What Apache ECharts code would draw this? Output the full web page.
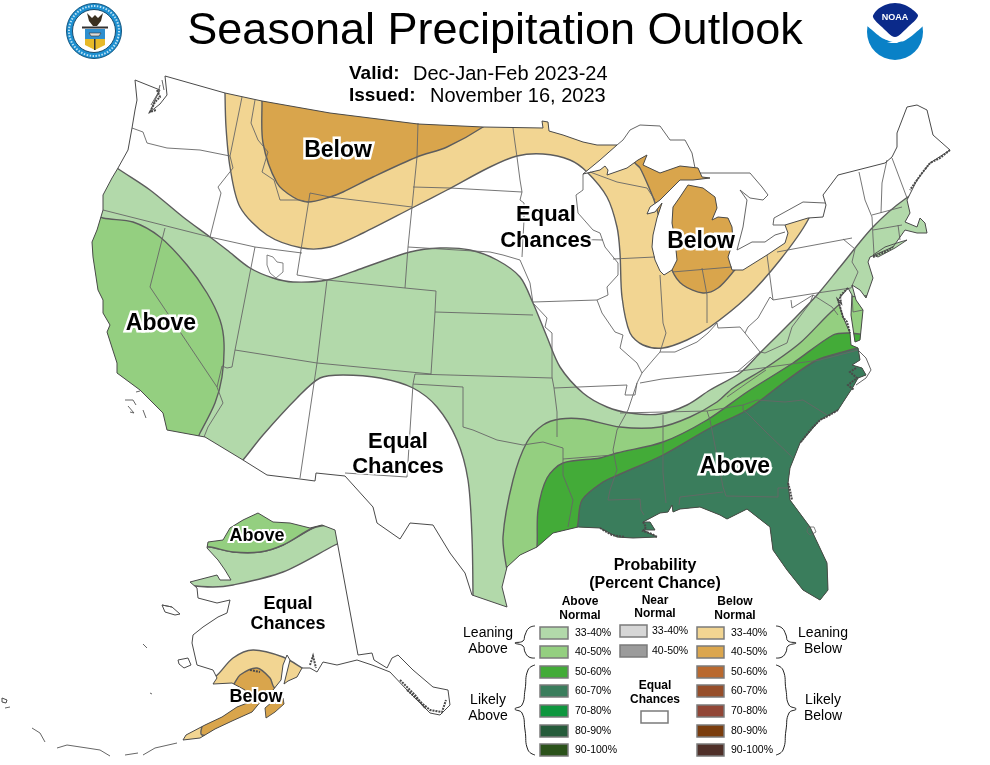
<!DOCTYPE html>
<html><head><meta charset="utf-8">
<style>html,body{margin:0;padding:0;background:#fff}#c{width:990px;height:765px}</style>
<script src="https://cdn.jsdelivr.net/npm/echarts@6/dist/echarts.min.js"></script>
</head><body><div id="c"></div>
<script>
// ---------- geography, in the map's own units ----------
const landConus=[[165,76],[225,93],[262,101],[330,113],[418,124],[483,127],[543,128],[542,121],[548,122],[549,131],[563,135],[583,142],[597,145],[617,145],[600,160],[583,174],[600,170],[605,166],[608,170],[607,175],[627,168],[638,160],[647,155],[643,165],[660,173],[680,166],[698,168],[702,177],[710,178],[693,180],[680,180],[670,190],[660,200],[650,207],[647,214],[655,212],[662,203],[657,218],[653,235],[652,247],[655,260],[660,271],[664,275],[672,270],[677,260],[675,240],[672,223],[673,207],[680,197],[688,185],[703,188],[715,197],[717,208],[712,220],[718,217],[728,218],[732,227],[733,242],[728,257],[732,270],[743,270],[767,255],[785,243],[788,233],[785,225],[808,218],[823,217],[826,205],[823,195],[838,175],[885,163],[892,157],[897,147],[897,133],[907,107],[917,105],[927,110],[933,135],[950,150],[930,163],[917,180],[907,200],[910,213],[905,222],[917,227],[920,218],[925,223],[927,233],[917,233],[905,230],[893,247],[870,257],[868,262],[873,278],[866,298],[860,290],[852,285],[856,300],[863,310],[860,340],[855,342],[851,315],[852,295],[848,288],[838,300],[843,317],[850,333],[851,345],[858,348],[860,360],[852,365],[862,368],[866,375],[858,378],[853,387],[838,410],[820,420],[800,443],[790,468],[788,483],[790,500],[810,527],[827,563],[828,590],[820,600],[803,590],[787,570],[773,550],[770,527],[747,509],[727,519],[720,515],[700,507],[680,509],[673,512],[672,505],[668,512],[660,513],[643,522],[650,522],[655,530],[643,530],[657,537],[633,538],[617,537],[600,528],[578,527],[553,533],[537,547],[520,555],[507,567],[502,587],[507,607],[472,595],[465,573],[450,553],[433,525],[410,523],[400,539],[377,523],[373,507],[345,476],[316,473],[315,481],[300,479],[267,475],[243,460],[205,437],[167,430],[163,413],[140,390],[117,373],[117,363],[107,332],[110,325],[103,313],[103,300],[98,290],[93,257],[92,242],[97,230],[103,210],[103,195],[112,178],[118,168],[128,150],[132,128],[135,110],[137,100],[135,80],[160,90],[155,100],[150,112],[160,104],[167,95]];
const longIsland=[[873,255],[885,247],[900,242],[907,240],[895,248],[878,257]];
const landAlaska=[[335,530],[358,655],[372,653],[374,660],[387,668],[392,658],[398,655],[413,670],[433,687],[448,690],[450,705],[440,715],[430,713],[407,690],[390,672],[372,665],[357,660],[337,665],[323,662],[317,672],[310,668],[302,668],[297,677],[288,681],[284,684],[290,660],[287,655],[283,665],[281,680],[273,690],[262,700],[252,712],[232,721],[215,729],[200,738],[183,740],[186,735],[205,725],[222,717],[237,707],[250,702],[245,690],[232,683],[213,684],[217,678],[213,670],[197,665],[192,643],[193,635],[203,627],[218,617],[227,613],[230,600],[217,603],[198,598],[197,588],[190,582],[217,575],[220,580],[231,580],[225,570],[218,560],[207,548],[208,542],[223,540],[230,528],[243,520],[258,513],[273,522],[290,523],[310,528],[322,525]];
const kodiak=[[265,708],[272,702],[283,698],[284,704],[275,712],[266,718]];
const islands=[[[162,605],[172,607],[180,614],[175,615],[165,612]],[[178,660],[188,658],[191,665],[184,668],[179,664]],[[2,698],[7,700],[6,703],[2,702]]];

const leanAbove1=[[100,155],[117,168],[150,190],[183,217],[210,237],[227,250],[250,268],[273,278],[293,282],[327,280],[363,268],[410,252],[440,248],[470,250],[497,260],[520,277],[533,303],[547,337],[560,367],[583,393],[607,407],[630,413],[660,414],[687,405],[710,390],[740,373],[760,353],[790,323],[817,295],[840,267],[873,227],[905,199],[925,190],[980,190],[980,640],[520,640],[473,640],[473,597],[472,537],[468,480],[457,440],[437,407],[413,388],[380,378],[343,375],[320,378],[297,398],[263,435],[243,460],[225,480],[60,470],[60,150]];
const leanAbove2West=[[60,205],[103,218],[133,222],[160,237],[187,265],[207,293],[220,320],[224,343],[222,377],[215,403],[200,433],[190,450],[60,450]];
const leanAbove2East=[[520,640],[512,590],[507,570],[503,537],[513,480],[527,442],[543,425],[560,419],[583,419],[620,427],[660,427],[690,417],[717,402],[733,388],[767,367],[800,343],[830,313],[848,298],[862,296],[880,296],[980,300],[980,640]];
const likelyAbove1=[[533,580],[537,547],[538,510],[547,478],[563,463],[600,458],[617,453],[663,442],[707,420],[747,392],[793,363],[833,335],[848,333],[865,335],[890,340],[980,345],[980,640],[540,640]];
const likelyAbove2=[[575,545],[578,523],[582,500],[603,482],[618,475],[663,455],[710,428],[747,410],[787,380],[817,360],[843,352],[858,348],[875,346],[895,344],[980,340],[980,640],[575,640]];
const leanBelow1=[[225,70],[620,70],[800,150],[815,195],[808,220],[780,260],[747,297],[710,327],[687,340],[663,348],[643,345],[630,333],[622,297],[620,253],[617,227],[607,197],[587,172],[570,160],[543,154],[517,156],[490,167],[447,190],[412,208],[363,233],[330,247],[302,248],[267,235],[240,207],[230,167],[226,127],[225,93]];
const leanBelow2North=[[262,70],[500,112],[483,127],[447,147],[417,157],[373,177],[343,192],[330,197],[308,202],[293,197],[277,183],[263,143],[262,101]];
const leanBelow2Michigan=[[622,140],[635,163],[640,168],[650,190],[655,203],[665,240],[672,270],[683,285],[703,293],[718,288],[733,272],[745,255],[750,190],[715,150],[640,130]];
const akLeanAbove1=[[150,540],[210,547],[233,552],[260,552],[283,545],[313,528],[345,515],[345,540],[335,545],[283,572],[233,585],[213,587],[185,585],[150,580]];
const akLeanAbove2=[[150,500],[345,500],[345,520],[313,528],[283,545],[260,552],[233,552],[210,547],[150,540]];
const akLeanBelow1=[[205,678],[215,677],[233,658],[253,650],[283,657],[302,668],[320,680],[300,730],[220,755],[170,755],[170,730]];
const akLeanBelow2=[[222,690],[233,685],[240,675],[257,668],[270,678],[275,688],[305,685],[300,730],[240,735],[202,735],[203,724]];

const stateLines=[
[[132,128],[143,132],[147,143],[167,148],[200,150],[230,156]],[[242,97],[230,156],[233,168],[218,187],[221,193],[210,237]],[[103,210],[210,237],[255,247],[302,253]],
[[255,100],[251,123],[258,140],[268,152],[262,172],[274,180],[280,200],[300,200],[308,202]],[[310,193],[330,197],[412,207]],[[310,193],[297,275],[327,280],[405,288]],
[[418,123],[417,157],[412,207],[408,247],[405,288]],[[413,187],[450,188],[522,192]],[[513,128],[515,143],[517,157],[520,180],[522,192],[520,200],[524,203],[524,220],[522,257]],
[[408,247],[490,252],[503,255],[520,260],[530,283],[533,303],[547,318],[545,327],[552,333],[552,377],[554,388],[557,412],[557,437]],[[405,288],[436,291],[435,312],[431,374]],[[435,312],[533,315]],
[[533,302],[597,300]],[[523,238],[603,240]],[[583,174],[583,190],[576,195],[578,213],[593,230],[600,233],[605,247],[618,263],[618,275],[607,287],[608,295],[597,300],[602,313],[615,332],[623,335],[620,348],[637,363],[642,373],[637,383],[628,410],[617,430],[613,450],[617,470],[610,490],[608,500],[640,499],[641,510],[644,515]],
[[613,259],[655,257]],[[660,275],[663,323],[666,333],[660,352],[653,360],[642,373]],[[702,268],[707,295],[707,323]],[[672,272],[732,267]],[[660,352],[675,352],[697,342],[708,333],[717,323],[718,328],[740,327],[745,333],[760,352],[737,372]],
[[640,383],[662,379],[733,372],[820,360],[858,350]],[[727,397],[747,383],[766,370]],[[620,413],[707,411],[743,405],[757,400],[785,402],[803,400],[827,415]],[[707,411],[710,420],[723,487],[726,496],[778,497],[778,488],[788,488]],[[663,415],[663,473],[666,503]],[[680,497],[723,492]],[[680,497],[679,505]],
[[554,388],[627,385],[625,395],[635,395],[637,383]],[[563,459],[613,455]],[[563,448],[563,475],[573,500],[568,527]],[[463,427],[473,430],[497,440],[523,445],[543,442],[563,448]],[[413,384],[463,387],[463,427]],[[415,374],[552,378]],[[415,374],[413,384],[407,477],[345,473]],
[[235,350],[317,363],[431,374]],[[327,280],[317,363],[300,478]],[[255,247],[235,350],[232,367],[227,368],[222,366],[217,387],[223,403],[208,427],[204,437]],[[165,228],[150,287],[217,387]],
[[767,255],[773,300],[770,297],[758,318],[748,327],[745,333]],[[773,300],[817,293],[851,288]],[[777,252],[852,238]],[[843,239],[855,249],[852,262],[858,272],[851,288]],[[760,352],[765,353],[787,343],[792,327],[810,303],[813,295],[832,307],[838,315]],[[791,300],[792,308],[813,295]],[[852,295],[853,312],[863,310]],
[[859,172],[865,200],[872,217],[873,237],[874,254]],[[872,215],[902,207]],[[887,160],[882,183],[881,213]],[[892,158],[907,198]],[[873,230],[902,225]],[[898,225],[900,240]],[[590,172],[617,182],[647,188],[655,200]],[[743,410],[747,413],[767,433],[793,458]],[[743,405],[743,410]]];
const lakes=[[[267,255],[273,257],[277,262],[283,263],[283,272],[276,278],[270,273],[267,265]],[[808,527],[814,527],[816,532],[810,535],[807,532]]];
const detailLines=[[[858,350],[866,358],[871,370],[866,378],[856,385]],[[774,218],[803,202],[825,203]],[[774,218],[773,225],[785,225]],[[700,173],[737,173],[750,173],[762,187],[768,195],[763,200],[750,198],[740,190],[747,200],[743,227],[737,250]],[[737,250],[752,242],[765,242],[775,235],[785,232]],[[617,145],[623,140],[630,130],[640,125],[660,126],[670,140],[685,140],[692,153],[695,168]],[[160,85],[158,93],[151,105]],[[162,80],[164,90]],[[125,400],[133,400],[136,405]],[[128,406],[134,413],[130,412]],[[143,410],[146,418]],[[140,391],[136,392]],[[32,728],[40,733],[45,742]],[[57,748],[67,745],[87,748],[100,750],[110,756]],[[125,755],[138,753]],[[143,755],[155,748],[177,743]],[[162,605],[172,607]],[[5,708],[10,707]],[[143,644],[147,648]],[[150,693],[152,694]]];
const roughCoast=[[[950,150],[940,158],[930,163],[922,173],[917,180],[910,190]],[[848,288],[840,296],[841,303],[838,300],[843,317],[847,322],[850,333]],[[157,90],[160,97],[155,102],[150,112],[156,110]],[[873,257],[885,252],[893,247]],[[856,368],[850,372],[857,378],[848,385],[854,390]],[[838,410],[828,416],[820,420],[812,428],[800,443]],[[643,522],[646,527],[643,531],[652,534],[657,537]],[[600,528],[612,535],[625,537]],[[788,483],[790,490],[792,500]],[[250,670],[260,672]],[[310,665],[313,656],[316,668]],[[407,690],[418,700],[430,710],[442,712],[446,700]],[[400,680],[415,695],[425,708]]];

// ---------- legend ----------
const rangeLabels=['33-40%','40-50%','50-60%','60-70%','70-80%','80-90%','90-100%'];
const nearLabels=['33-40%','40-50%'];
const aboveColors=['#b2d9aa','#94cf80','#43ab38','#3a7d5c','#0e963e','#255b3a','#2b521a'];
const nearColors=['#d6d6d6','#9b9b9b'];
const belowColors=['#f2d592','#dba64e','#b9692f','#964e2a','#914636','#7a3d0e','#4f3029'];
const legendRowTops=[627,646,666,685,705,725,744];
const nearRowTops=[625,645];
const bracesLeft=[[[535,626],[529,628],[525,635],[523,641],[515,643],[523,646],[525,652],[529,657],[535,658]],[[535,665],[528,670],[525,690],[522,705],[515,709],[522,713],[525,730],[528,750],[535,755]]];
const bracesRight=[[[776,626],[782,628],[786,635],[788,641],[796,643],[788,646],[786,652],[782,657],[776,658]],[[776,665],[783,670],[786,690],[789,705],[796,709],[789,713],[786,730],[783,750],[776,755]]];

// ---------- text ----------
const mapLabelsBig=[[338,151,'Below'],[161,324,'Above'],[701,242,'Below'],[735,467,'Above']];
const equalLabelsBig=[[546,215,'Equal'],[546,241,'Chances'],[398,442,'Equal'],[398,467,'Chances']];
const alaskaLabels=[[257,536,'Above'],[256,697,'Below'],[288,604,'Equal'],[288,624,'Chances']];
const headerBold=[[349,74,'Valid:'],[349,96,'Issued:']];
const headerPlain=[[413,74,'Dec-Jan-Feb 2023-24'],[430,96,'November 16, 2023']];
const probLabels=[[655,566,'Probability'],[655,584,'(Percent Chance)']];
const colHeads=[[580,602,'Above'],[580,616,'Normal'],[655,601,'Near'],[655,614,'Normal'],[735,602,'Below'],[735,616,'Normal'],[655,686,'Equal'],[655,700,'Chances']];
const sideLabels=[[488,633,'Leaning'],[488,649,'Above'],[823,633,'Leaning'],[823,649,'Below'],[488,700,'Likely'],[488,716,'Above'],[823,700,'Likely'],[823,716,'Below']];

const FONT='"Liberation Sans", Arial, sans-serif';
const C={a1:aboveColors[0],a2:aboveColors[1],a3:aboveColors[2],a4:aboveColors[3],b1:belowColors[0],b2:'#d9a54c'};
const edge='#5d5d5d';

function pts(api,list){return list.map(p=>api.coord(p));}
function shadeSeries(layers,clip){
  return {type:'custom',coordinateSystem:'cartesian2d',silent:true,clip:false,data:layers.map((l,i)=>[i]),
    renderItem(params,api){
      const l=layers[params.dataIndex];
      return {type:'group',clipPath:{type:'polygon',shape:{points:pts(api,clip)}},
        children:[{type:'polygon',shape:{points:pts(api,l.p),smooth:0.3},style:{fill:l.c,stroke:edge,lineWidth:1.4}}]};
    }};
}
function polySeries(list,style){
  return {type:'custom',coordinateSystem:'cartesian2d',silent:true,clip:false,data:list.map((l,i)=>[i]),
    renderItem(params,api){return {type:'polygon',shape:{points:pts(api,list[params.dataIndex])},style};}};
}
function lineSeries(list,style,smooth){
  return {type:'custom',coordinateSystem:'cartesian2d',silent:true,clip:false,data:list.map((l,i)=>[i]),
    renderItem(params,api){return {type:'polyline',shape:{points:pts(api,list[params.dataIndex]),smooth:smooth||0},style};}};
}
function swatchSeries(left,right,tops,colors,h){
  return {type:'custom',coordinateSystem:'cartesian2d',silent:true,clip:false,data:tops.map((t,i)=>[i]),
    renderItem(params,api){
      const i=params.dataIndex,a=api.coord([left,tops[i]]),b=api.coord([right,tops[i]+h]);
      return {type:'rect',shape:{x:a[0],y:a[1],width:b[0]-a[0],height:b[1]-a[1]},style:{fill:colors[i],stroke:'#7b7b7b',lineWidth:1.5}};
    }};
}
function textSeries(items,size,weight,extra){
  return {type:'scatter',silent:true,symbol:'circle',symbolSize:1,itemStyle:{color:'transparent',opacity:1},data:items,clip:false,
    label:Object.assign({show:true,position:'inside',formatter:p=>p.data[2],fontFamily:FONT,fontSize:size,fontWeight:weight,color:'#000',align:'center',verticalAlign:'middle'},extra||{})};
}
const halo={textBorderColor:'#fff',textBorderWidth:5};
const rangeItems=rangeLabels.map((t,i)=>[575,legendRowTops[i]+6,t]).concat(rangeLabels.map((t,i)=>[731,legendRowTops[i]+6,t]),nearLabels.map((t,i)=>[652,nearRowTops[i]+6,t]));

const option={
  animation:false,backgroundColor:'#fff',
  title:{text:'Seasonal Precipitation Outlook',left:'center',top:4,textStyle:{fontFamily:FONT,fontSize:45,fontWeight:'normal',color:'#000'}},
  grid:{left:0,right:0,top:0,bottom:0},
  xAxis:{type:'value',min:0,max:990,show:false},
  yAxis:{type:'value',min:0,max:765,inverse:true,show:false},
  graphic:{elements:[
    {type:'circle',shape:{cx:94,cy:31,r:27.5},style:{fill:'#1c8fd0',stroke:'#16567f',lineWidth:1}},
    {type:'circle',shape:{cx:94,cy:31,r:25},style:{fill:'none',stroke:'#bfe3f5',lineWidth:2,lineDash:[1.5,1.5]}},
    {type:'circle',shape:{cx:94,cy:31,r:21.5},style:{fill:'#fff',stroke:'#1b4a6b',lineWidth:1}},
    {type:'polygon',shape:{points:[[85,29],[105,29],[105,39],[85,39]]},style:{fill:'#2f8fcf'}},
    {type:'polygon',shape:{points:[[85,39],[105,39],[105,45],[95,50],[85,45]]},style:{fill:'#e7b928'}},
    {type:'polygon',shape:{points:[[89,33],[101,33],[99,36],[91,36]]},style:{fill:'#ddd',stroke:'#333',lineWidth:.6}},
    {type:'rect',shape:{x:82,y:26.5,width:26,height:2},style:{fill:'#333'}},
    {type:'rect',shape:{x:94,y:39,width:1.5,height:11},style:{fill:'#333'}},
    {type:'polygon',shape:{points:[[87,13],[92,18],[95,15],[98,18],[103,13],[101,21],[97,26],[93,26],[89,21]]},style:{fill:'#3a3020'}},
    {type:'circle',shape:{cx:895,cy:32,r:28},style:{fill:'#0a81c7'}},
    {type:'polygon',shape:{points:[[864,22],[872,30],[882,38],[893,42],[904,41],[914,34],[926,22],[922,2],[868,2]],smooth:.2},style:{fill:'#fff'}},
    {type:'polygon',shape:{points:[[873,17],[877,10],[885,5],[895,3],[905,5],[913,10],[918,16],[908,27],[895,37],[882,27]],smooth:.3},style:{fill:'#0b2a8a'}},
    {type:'polygon',shape:{points:[[887,43],[895,41],[909,37],[903,40],[897,43]]},style:{fill:'#fff'}},
    {type:'text',x:895,y:18,style:{text:'NOAA',fill:'#fff',font:'bold 9px '+FONT,textAlign:'center',textVerticalAlign:'middle'}}
  ]},
  series:[
    polySeries([landConus,landAlaska,longIsland,kodiak].concat(islands),{fill:'#fff',stroke:'none'}),
    shadeSeries([{p:leanAbove1,c:C.a1},{p:leanAbove2West,c:C.a2},{p:leanAbove2East,c:C.a2},{p:likelyAbove1,c:C.a3},{p:likelyAbove2,c:C.a4},{p:leanBelow1,c:C.b1},{p:leanBelow2North,c:C.b2},{p:leanBelow2Michigan,c:C.b2}],landConus),
    shadeSeries([{p:akLeanAbove1,c:C.a1},{p:akLeanAbove2,c:C.a2},{p:akLeanBelow1,c:C.b1},{p:akLeanBelow2,c:C.b2}],landAlaska),
    polySeries([longIsland],{fill:C.a1,stroke:'#444',lineWidth:.9}),
    polySeries([kodiak],{fill:C.b2,stroke:'#444',lineWidth:.9}),
    lineSeries(stateLines,{fill:'none',stroke:'#666',lineWidth:.9}),
    polySeries(lakes,{fill:'none',stroke:'#666',lineWidth:.8}),
    polySeries([landConus,landAlaska].concat(islands),{fill:'none',stroke:'#4a4a4a',lineWidth:1,lineJoin:'round'}),
    lineSeries(detailLines,{fill:'none',stroke:'#555',lineWidth:.9}),
    lineSeries(roughCoast,{fill:'none',stroke:'#4a4a4a',lineWidth:2,lineDash:[2,1]}),
    swatchSeries(540,568,legendRowTops,aboveColors,12),
    swatchSeries(697,724,legendRowTops,belowColors,12),
    swatchSeries(620,647,nearRowTops,nearColors,12),
    swatchSeries(641,668,[711],['#fff'],12),
    lineSeries(bracesLeft.concat(bracesRight),{fill:'none',stroke:'#222',lineWidth:1},.5),
    textSeries(mapLabelsBig,23,'bold',halo),
    textSeries(equalLabelsBig,22,'bold',{textBorderColor:'#fff',textBorderWidth:3}),
    textSeries(alaskaLabels,18,'bold',{textBorderColor:'#fff',textBorderWidth:4}),
    textSeries(headerBold,19,'bold',{align:'left'}),
    textSeries(headerPlain,20,'normal',{align:'left'}),
    textSeries(probLabels,16,'bold'),
    textSeries(colHeads,12,'bold'),
    textSeries(sideLabels,14,'normal'),
    textSeries(rangeItems,10.5,'normal',{align:'left'})
  ]
};
echarts.init(document.getElementById('c'),null,{renderer:'canvas'}).setOption(option);
</script></body></html>
